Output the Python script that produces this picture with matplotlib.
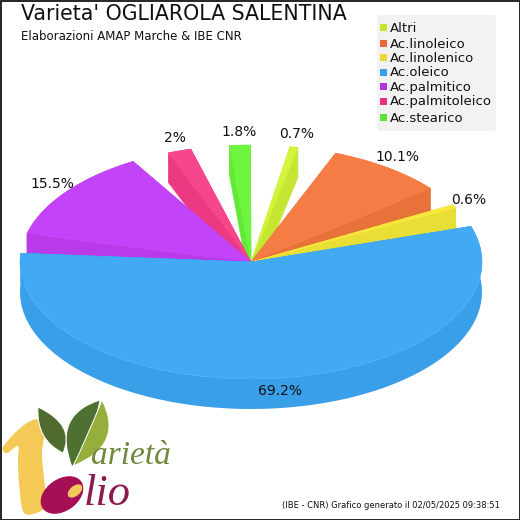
import numpy as np
import matplotlib
matplotlib.use("Agg")
import matplotlib.pyplot as plt
from matplotlib.patches import Polygon, Ellipse, FancyBboxPatch, Rectangle, PathPatch
from matplotlib.path import Path

# data
names = ['Altri', 'Ac.linoleico', 'Ac.linolenico', 'Ac.oleico', 'Ac.palmitico', 'Ac.palmitoleico', 'Ac.stearico']
values = [0.7, 10.1, 0.6, 69.2, 15.5, 2, 1.8]
labels = ['0.7%', '10.1%', '0.6%', '69.2%', '15.5%', '2%', '1.8%']
top_colors = ['#D2F53C', '#F57D45', '#F8E83C', '#42A9F5', '#C343F8', '#F7468C', '#6EF53E']
side_colors = ['#C5E633', '#E8733A', '#E9DE36', '#3A9FE9', '#B83AE9', '#EB3A82', '#62E836']
legend_colors = ['#C4E52E', '#E8683A', '#E9D936', '#3A9FE9', '#B52FE5', '#EB2F7E', '#5FE032']
legend_y = [28, 44, 58, 73, 87, 102, 118]

# pie geometry in pixels
cx, cy = 251, 262
rx, ry = 231, 117
depth = 30
gap = 9.75
deg_per_unit = 2.92
first_start = 9.7

fig = plt.figure(figsize=(5.2, 5.2), dpi=100)
ax = fig.add_axes([0, 0, 1, 1])
ax.set_xlim(0, 520)
ax.set_ylim(520, 0)
ax.axis('off')


def arc(t0, t1, dy=0):
    t = np.radians(np.linspace(t0, t1, 120))
    return np.column_stack([cx + rx * np.sin(t), cy - ry * np.cos(t) + dy])


def draw_slice(t0, t1, top, side):
    wall = arc(t0, t1)
    low = arc(t0, t1, depth)
    ax.add_patch(Polygon(np.vstack([wall, low[::-1]]), fc=side, ec='none'))
    for edge in (wall[0], wall[-1]):
        face = [(cx, cy), edge, (edge[0], edge[1] + depth), (cx, cy + depth)]
        ax.add_patch(Polygon(face, fc=side, ec=side, lw=0.3))
    ax.add_patch(Polygon(np.vstack([[(cx, cy)], wall]), fc=top, ec=top, lw=0.4))


starts = []
pos = first_start
for v in values:
    starts.append(pos)
    pos += v * deg_per_unit + gap
ends = [s + v * deg_per_unit for s, v in zip(starts, values)]
mids = [(s + e) / 2 for s, e in zip(starts, ends)]

# back slices first, the big one goes on top
order = sorted(range(len(values)), key=lambda i: -np.cos(np.radians(mids[i])))
for i in order:
    draw_slice(starts[i], ends[i], top_colors[i], side_colors[i])

for i, lab in enumerate(labels):
    t = np.radians(mids[i])
    ax.text(cx + 1.07 * rx * np.sin(t), cy - 1.11 * ry * np.cos(t), lab,
            ha='center', va='center', fontsize=10, color='#111111')

# titles
ax.text(21, 20, "Varieta' OGLIAROLA SALENTINA", fontsize=14.8, va='baseline', color='#111111')
ax.text(21, 36, "Elaborazioni AMAP Marche & IBE CNR", fontsize=8.5, va='center', color='#111111')
ax.text(500, 505, "(IBE - CNR) Grafico generato il 02/05/2025 09:38:51", fontsize=6.0,
        ha='right', va='center', color='#111111')

# legend
ax.add_patch(FancyBboxPatch((379, 17), 115, 112, boxstyle='round,pad=2,rounding_size=3',
                            fc='#F2F2F2', ec='none'))
for name, col, y in zip(names, legend_colors, legend_y):
    ax.add_patch(Rectangle((380, y - 4), 7, 7, fc=col, ec='none'))
    ax.text(390, y, name, fontsize=9.5, va='center', color='#111111')


def blob(pts, color):
    # closed catmull-rom spline through the points
    p = np.array(pts, dtype=float)
    n = len(p)
    out = []
    for i in range(n):
        p0, p1, p2, p3 = p[i - 1], p[i], p[(i + 1) % n], p[(i + 2) % n]
        for s in np.linspace(0, 1, 12, endpoint=False):
            out.append(0.5 * (2 * p1 + (p2 - p0) * s + (2 * p0 - 5 * p1 + 4 * p2 - p3) * s ** 2
                              + (3 * p1 - p0 - 3 * p2 + p3) * s ** 3))
    ax.add_patch(Polygon(out, fc=color, ec='none'))


def leaf(a, c1, b, c2, color):
    verts = [a, c1, b, c2, a]
    codes = [Path.MOVETO, Path.CURVE3, Path.CURVE3, Path.CURVE3, Path.CURVE3]
    ax.add_patch(PathPatch(Path(verts, codes), fc=color, ec='white', lw=0.7))


# logo
blob([(3, 447), (18, 430), (33, 420), (45, 421), (45, 432), (42, 455), (45, 487), (46, 506),
      (33, 514), (23, 511), (19, 483), (18, 460), (18, 446), (7, 453)], '#F5C956')
leaf((38, 407), (76, 425), (63, 453), (36, 440), '#4F6B30')
leaf((100, 400), (52, 415), (72, 467), (92, 445), '#4E7030')
leaf((102, 400), (125, 445), (73, 466), (86, 440), '#96AE3C')
ax.add_patch(Ellipse((62, 495), 47, 32, angle=-35, fc='#A50F55', ec='none'))
ax.add_patch(Ellipse((75, 491), 17, 10, angle=-40, fc='#F0C95A', ec='none'))
ax.text(91, 464, "arietà", family='Liberation Serif', style='italic', fontsize=24,
        va='baseline', color='#6F8A3C')
ax.text(84, 505, "lio", family='Liberation Serif', style='italic', fontsize=32,
        va='baseline', color='#8B1A4F')

# frame
ax.add_patch(Rectangle((0.5, 0.5), 519, 519, fc='none', ec='black', lw=1.2))

fig.savefig('out.png', dpi=100)
